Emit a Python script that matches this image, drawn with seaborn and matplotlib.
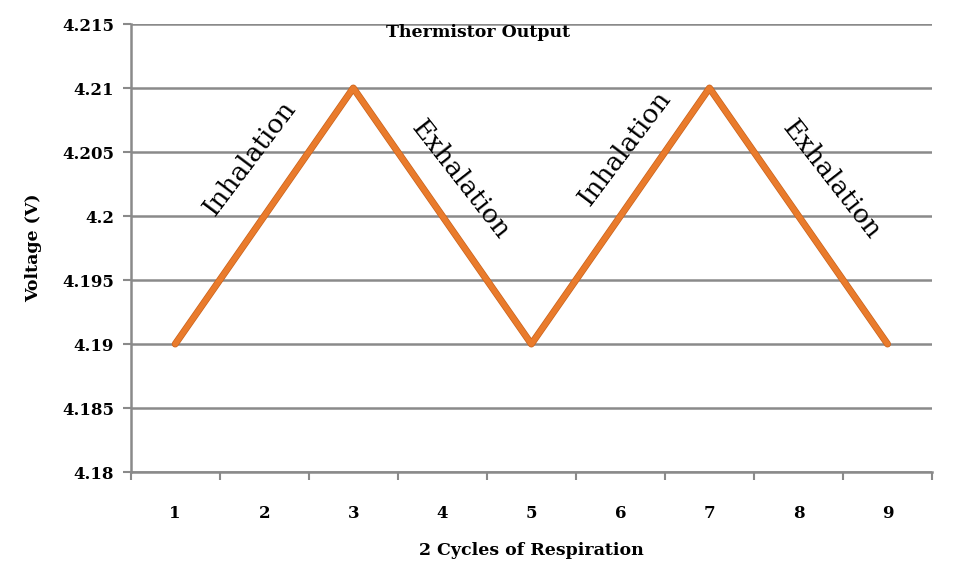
import numpy as np
import pandas as pd
import matplotlib
matplotlib.use("Agg")
import matplotlib.pyplot as plt
import matplotlib.patheffects as pe
import seaborn as sns

# data
cycle_points = [1, 2, 3, 4, 5, 6, 7, 8, 9]
voltage = [4.19, 4.20, 4.21, 4.20, 4.19, 4.20, 4.21, 4.20, 4.19]
y_ticks = [4.18, 4.185, 4.19, 4.195, 4.2, 4.205, 4.21, 4.215]
y_tick_labels = ["4.18", "4.185", "4.19", "4.195", "4.2", "4.205", "4.21", "4.215"]
phase_labels = ["Inhalation", "Exhalation", "Inhalation", "Exhalation"]
phase_x = [1.84, 4.2, 6.05, 8.37]
phase_y = [4.2045, 4.2028, 4.2053, 4.2028]
phase_rot = [53, -52, 53, -52]

sns.set_style("white")
plt.rcParams['font.family'] = ['DejaVu Serif']
plt.rcParams['text.color'] = 'black'
plt.rcParams['axes.labelcolor'] = 'black'
plt.rcParams['xtick.color'] = 'black'
plt.rcParams['ytick.color'] = 'black'

df = pd.DataFrame({"cycle": cycle_points, "voltage": voltage})

fig = plt.figure(figsize=(9.54, 5.61), dpi=100)
ax = fig.add_axes([0.137, 0.1586, 0.840, 0.7986])

grid_c = "#8a8a8a"
for yv in y_ticks:
    ax.axhline(yv, color=grid_c, lw=1.8, zorder=1)

sns.lineplot(data=df, x="cycle", y="voltage", ax=ax, color="#E97B2C", lw=4, zorder=3,
             path_effects=[pe.Stroke(linewidth=5, foreground="#C9621C"), pe.Normal()])

ax.set_xlim(0.5, 9.5)
ax.set_ylim(4.18, 4.215)
ax.set_yticks(y_ticks)
ax.set_yticklabels(y_tick_labels, fontweight="bold", fontsize=12)
ax.set_xticks(cycle_points)
ax.set_xticklabels([str(c) for c in cycle_points], fontweight="bold", fontsize=12)
ax.set_xticks(np.arange(0.5, 10, 1.0), minor=True)
ax.tick_params(axis="x", which="major", bottom=True, length=0, pad=24)
ax.tick_params(axis="x", which="minor", bottom=True, length=6, width=1.5, color=grid_c, direction="out")
ax.tick_params(axis="y", which="major", left=True, length=6, width=1.5, color=grid_c, direction="out", pad=6)

for s in ["top", "right"]:
    ax.spines[s].set_visible(False)
for s in ["left", "bottom"]:
    ax.spines[s].set_color(grid_c)
    ax.spines[s].set_linewidth(1.8)

ax.set_xlabel("2 Cycles of Respiration", fontweight="bold", fontsize=12.5, labelpad=14)
ax.set_ylabel("Voltage (V)", fontweight="bold", fontsize=12.5, labelpad=14)
ax.text(0.434, 0.98, "Thermistor Output", transform=ax.transAxes, ha="center", va="center",
        fontweight="bold", fontsize=12.5)

for lbl, x, y, r in zip(phase_labels, phase_x, phase_y, phase_rot):
    ax.text(x, y, lbl, rotation=r, ha="center", va="center", fontsize=19,
            rotation_mode="anchor", zorder=4)

fig.savefig("out.png", dpi=100)
